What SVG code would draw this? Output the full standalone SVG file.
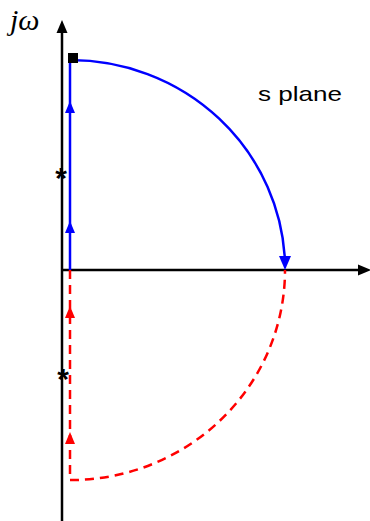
<svg xmlns="http://www.w3.org/2000/svg" width="370" height="521" viewBox="0 0 370 521">
<style>
.axis{stroke:#000;stroke-width:2.5;fill:none}
.blue{stroke:#0000ff;stroke-width:2.5;fill:none}
.red{stroke:#ff0000;stroke-width:2.5;fill:none;stroke-dasharray:9,6}
.lbl{font-family:"Liberation Sans",Arial,sans-serif;font-size:21px;fill:#000}
.jw{font-family:"Liberation Serif","Times New Roman",serif;font-style:italic;font-size:30px;fill:#000}
.star{font-family:"Liberation Sans",Arial,sans-serif;font-size:30px;font-weight:bold;fill:#000;text-anchor:middle}
</style>
<g id="axes">
<line class="axis" x1="62" y1="521" x2="62" y2="30"/>
<polygon points="62,20 56.5,33 67.5,33" fill="#000"/>
<line class="axis" x1="62" y1="270" x2="360" y2="270"/>
<polygon points="371,270 358,264.5 358,275.5" fill="#000"/>
</g>
<g id="labels">
<text class="jw" x="10" y="30">jω</text>
<text class="lbl" x="258" y="101" textLength="84" lengthAdjust="spacingAndGlyphs">s plane</text>
</g>
<g id="poles">
<text class="star" x="61" y="188">*</text>
<text class="star" x="63" y="389">*</text>
</g>
<g id="connectors">
<path class="blue" d="M70,270 V60 A215,210 0 0 1 285,262"/>
<polygon points="285,270 279,256 291,256" fill="#0000ff"/>
<polygon points="70,101 65,113 75,113" fill="#0000ff"/>
<polygon points="70,221 65,233 75,233" fill="#0000ff"/>
<path class="red" d="M70,270 V480 H77 A215,210 0 0 0 285,270"/>
<polygon points="70,306 65,318 75,318" fill="#ff0000"/>
<polygon points="70,432 65,444 75,444" fill="#ff0000"/>
</g>
<g id="start">
<rect x="68" y="53" width="10" height="10" fill="#000"/>
</g>
</svg>
